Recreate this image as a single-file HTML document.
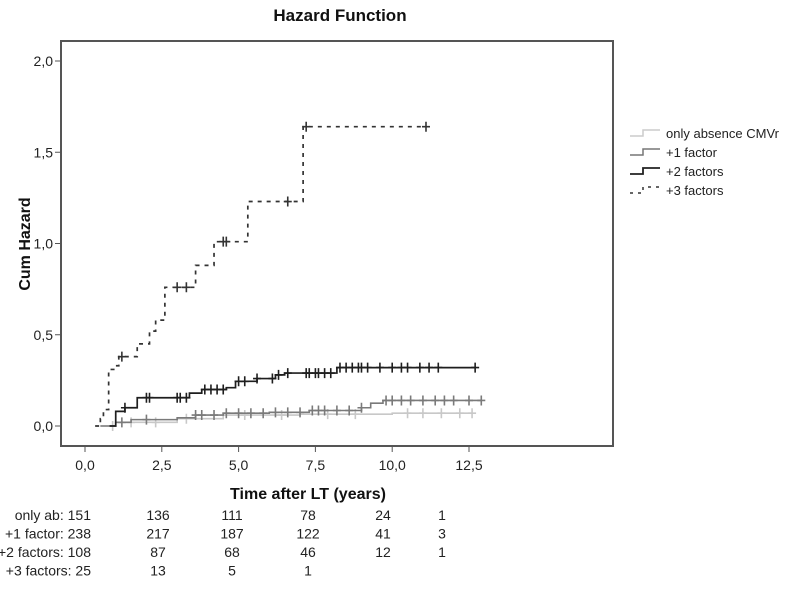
<!DOCTYPE html>
<html><head><meta charset="utf-8"><style>
body{margin:0;background:#fff;width:796px;height:587px;overflow:hidden;font-family:"Liberation Sans",Arial,sans-serif}
svg text{font-family:"Liberation Sans",Arial,sans-serif}
</style></head><body>
<svg id="chart" width="796" height="587" viewBox="0 0 796 587">
<text x="340" y="21" text-anchor="middle" font-size="17" font-weight="bold" fill="#111">Hazard Function</text>
<rect x="61" y="41" width="552" height="405" fill="none" stroke="#555" stroke-width="2"/>
<g id="axes"></g>
<g id="series"></g>
<text transform="translate(30,244) rotate(-90)" text-anchor="middle" font-size="16" font-weight="bold" fill="#111">Cum Hazard</text>
<text x="308" y="499" text-anchor="middle" font-size="16" font-weight="bold" fill="#111">Time after LT (years)</text>
<g font-size="13" fill="#222">
 <g><path d="M630 136 H643 V130 H660" fill="none" stroke="#ccc" stroke-width="1.5"/><text x="666" y="138">only absence CMVr</text></g>
 <g><path d="M630 155 H643 V149 H660" fill="none" stroke="#777" stroke-width="1.5"/><text x="666" y="157">+1 factor</text></g>
 <g><path d="M630 174 H643 V168 H660" fill="none" stroke="#222" stroke-width="1.8"/><text x="666" y="176">+2 factors</text></g>
 <g><path d="M630 193 H643 V187 H660" fill="none" stroke="#333" stroke-width="1.5" stroke-dasharray="3,5"/><text x="666" y="195">+3 factors</text></g>
</g>
<g id="table" font-size="14" fill="#222"></g>
</svg>
<script>
const xTicks=[0,2.5,5,7.5,10,12.5];
const xTickLabels=["0,0","2,5","5,0","7,5","10,0","12,5"];
const yTicks=[0,0.5,1,1.5,2];
const yTickLabels=["0,0","0,5","1,0","1,5","2,0"];
const s3t=[0.33,0.5,0.6,0.77,1.0,1.1,1.7,2.1,2.3,2.6,3.6,4.2,5.3,7.1,11.1];
const s3v=[0,0.04,0.09,0.31,0.33,0.38,0.45,0.52,0.58,0.76,0.88,1.01,1.23,1.64,1.64];
const s3c=[1.2,3.0,3.3,4.5,4.6,6.6,7.2,11.1];
const s2t=[0.8,1.0,1.3,1.7,3.4,3.8,4.6,4.9,5.6,6.2,6.5,8.2,12.7];
const s2v=[0,0.08,0.1,0.155,0.18,0.2,0.21,0.245,0.26,0.28,0.29,0.32,0.32];
const s2c=[1.3,2.0,2.1,3.0,3.1,3.3,3.9,4.1,4.3,4.5,5.0,5.2,5.6,6.1,6.3,6.6,7.2,7.3,7.5,7.6,7.8,8.0,8.3,8.5,8.7,8.9,9.0,9.2,9.6,10.0,10.3,10.5,10.9,11.2,11.5,12.7];
const s1t=[0.5,1.0,1.5,3.0,3.6,4.5,6.0,7.3,9.0,9.3,9.7,12.9];
const s1v=[0,0.02,0.035,0.045,0.06,0.07,0.075,0.085,0.1,0.125,0.14,0.14];
const s1c=[1.2,2.0,3.6,3.8,4.2,4.6,5.0,5.4,5.8,6.2,6.6,7.0,7.4,7.6,7.8,8.2,8.6,9.0,9.8,10.0,10.3,10.6,11.0,11.4,11.7,12.0,12.5,12.9];
const s0t=[0.5,1.0,3.0,4.5,7.0,10.0,12.6];
const s0v=[0,0.02,0.04,0.06,0.065,0.07,0.07];
const s0c=[0.9,1.5,2.3,3.3,5.2,6.4,7.9,8.8,10.5,11.0,11.6,12.2,12.6];
const rowLabels=["only ab: 151","+1 factor: 238","+2 factors: 108","+3 factors:  25"];
const riskCounts=[[136,111,78,24,1],[217,187,122,41,3],[87,68,46,12,1],[13,5,1]];
const X=t=>85+t*30.72, Y=v=>426-v*182.5;
const NS="http://www.w3.org/2000/svg";
function mk(tag,attrs,parent){const e=document.createElementNS(NS,tag);for(const k in attrs)e.setAttribute(k,attrs[k]);parent.appendChild(e);return e;}
const ax=document.getElementById('axes');
xTicks.forEach((t,i)=>{
 const l=mk('line',{x1:X(t),x2:X(t),y1:446,y2:452,stroke:'#555'},ax);
 
 
 const tx=mk('text',{x:X(t),y:470,'text-anchor':'middle','font-size':14,fill:'#222'},ax);tx.textContent=xTickLabels[i];
 
 
});
yTicks.forEach((v,i)=>{
 const l=mk('line',{x1:55,x2:61,y1:Y(v),y2:Y(v),stroke:'#555'},ax);
 
 
 const tx=mk('text',{x:53,y:Y(v)+5,'text-anchor':'end','font-size':14,fill:'#222'},ax);tx.textContent=yTickLabels[i];
 
 
});
function valAt(ts,vs,t){let v=vs[0];for(let i=0;i<ts.length;i++){if(ts[i]<=t)v=vs[i];}return v;}
const sg=document.getElementById('series');
function series(ts,vs,cs,color,w,dash,name){
 let d='M'+X(ts[0])+' '+Y(vs[0]);
 for(let i=1;i<ts.length;i++){d+=' H'+X(ts[i])+' V'+Y(vs[i]);}
 const p=mk('path',{d:d,fill:'none',stroke:color,'stroke-width':w},sg);
 if(dash)p.setAttribute('stroke-dasharray',dash);
 
 
 cs.forEach(t=>{
  const x=X(t),y=Y(valAt(ts,vs,t));
  const c=mk('path',{d:`M${x-4} ${y} H${x+4} M${x} ${y-5} V${y+5}`,stroke:color,'stroke-width':1.6},sg);
  
  
 });
}
series(s0t,s0v,s0c,'#c8c8c8',1.6,null,'only-absence');
series(s1t,s1v,s1c,'#7a7a7a',1.6,null,'one-factor');
series(s2t,s2v,s2c,'#1e1e1e',1.7,null,'two-factors');
series(s3t,s3v,s3c,'#333',1.7,'4,5','three-factors');
const tb=document.getElementById('table');
const colX=[158,232,308,383,442];
rowLabels.forEach((lab,r)=>{
 const y=520+r*18.5;
 const t=mk('text',{x:91,y:y,'text-anchor':'end'},tb);t.textContent=lab;
 
 
 riskCounts[r].forEach((n,i)=>{
  const c=mk('text',{x:colX[i],y:y,'text-anchor':'middle'},tb);c.textContent=n;
  
  
 });
});
</script>
</body></html>
